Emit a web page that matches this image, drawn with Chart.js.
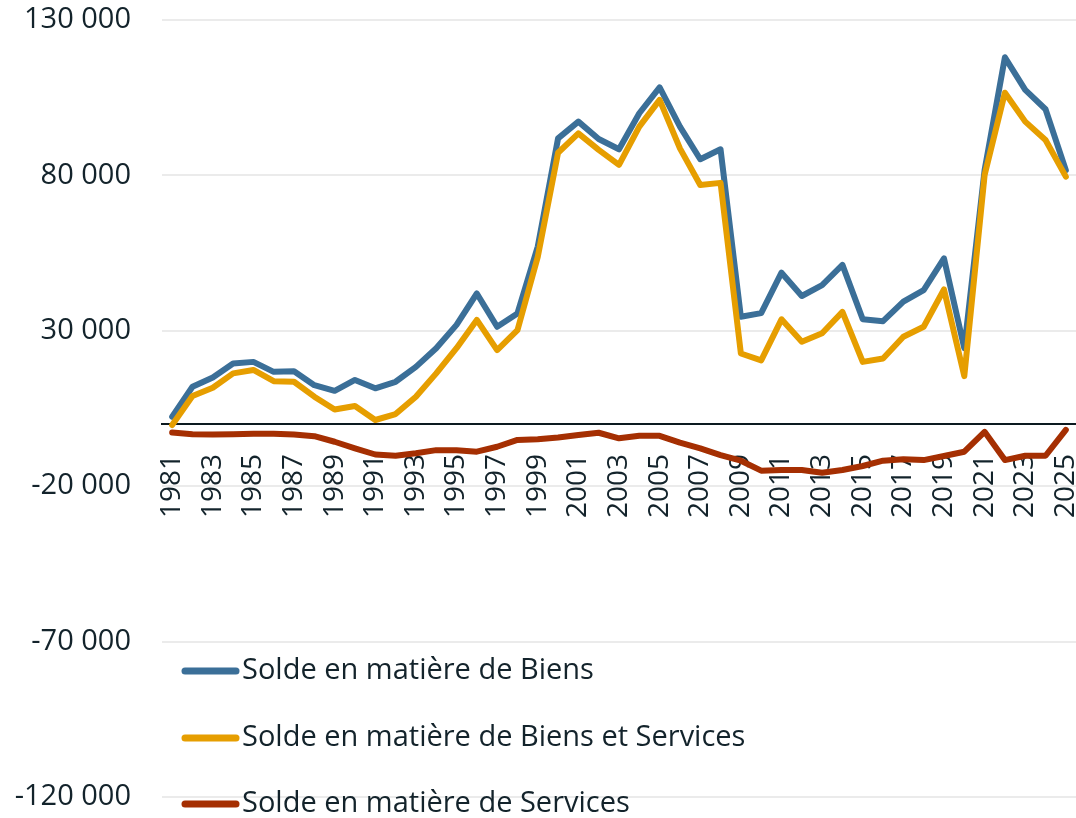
<!DOCTYPE html>
<html lang="fr">
<head>
<meta charset="utf-8">
<title>Soldes commerciaux</title>
<script src="https://cdn.jsdelivr.net/npm/chart.js@4.4.1/dist/chart.umd.min.js"></script>
<style>
  html, body { margin: 0; padding: 0; background: #ffffff; }
  #wrap { width: 1076px; height: 818px; }
</style>
</head>
<body>
<div id="wrap"><canvas id="soldeChart" width="1076" height="818"></canvas></div>
<script>
// Années (axe x)
const annees = [];
for (let a = 1981; a <= 2025; a++) annees.push(String(a));

// Valeurs
const soldeBiens = [
  2350, 12000, 15000, 19500, 20000, 16800, 17000, 12500, 10700, 14200, 11500, 13600, 18400, 24400, 31900,
  42000, 31300, 35600, 57100, 91900, 97300, 91700, 88400, 100000, 108300, 95700, 85200, 88400, 34500, 35700,
  48700, 41200, 44700, 51200, 33700, 33100, 39400, 43100, 53300, 24400, 81700, 118000, 107500, 101300, 81700
];
const soldeBiensServices = [
  -300, 9000, 11700, 16300, 17400, 13800, 13600, 8800, 4700, 5800, 1300, 3200, 8800, 16300, 24400,
  33500, 23800, 30200, 53800, 87300, 93500, 88200, 83400, 95700, 104300, 88700, 76900, 77600, 22700, 20500,
  33700, 26500, 29200, 36100, 20000, 21100, 28100, 31300, 43300, 15400, 80100, 106600, 97300, 91400, 79600
];
const soldeServices = [
  -2700, -3300, -3400, -3300, -3100, -3100, -3400, -3900, -5700, -7800, -9800, -10200, -9400, -8400, -8400,
  -8900, -7300, -5100, -4900, -4300, -3500, -2800, -4600, -3800, -3800, -6000, -7800, -10000, -11800, -15000,
  -14800, -14800, -15700, -14800, -13500, -11800, -11300, -11600, -10300, -8900, -2500, -11600, -10200, -10200, -1900
];

const nomsSeries = [
  "Solde en matière de Biens",
  "Solde en matière de Biens et Services",
  "Solde en matière de Services"
];
const couleurs = ["#3B6F98", "#E69E00", "#A52F02"];

const couleurTexte = "#13232b";
const police = "'Open Sans', 'Liberation Sans', sans-serif";

// Format "130 000"
function formatMilliers(v) {
  const s = Math.abs(v).toString().replace(/\B(?=(\d{3})+(?!\d))/g, " ");
  return (v < 0 ? "-" : "") + s;
}

// Légende dessinée dans la zone du graphique (en bas à gauche)
const legendeInterne = {
  id: "legendeInterne",
  afterDatasetsDraw(chart) {
    const ctx = chart.ctx;
    const lignesY = [671, 738, 804];
    ctx.save();
    chart.data.datasets.forEach((ds, i) => {
      const y = lignesY[i];
      ctx.strokeStyle = ds.borderColor;
      ctx.lineWidth = 7;
      ctx.lineCap = "round";
      ctx.beginPath();
      ctx.moveTo(185, y);
      ctx.lineTo(236, y);
      ctx.stroke();
      ctx.fillStyle = couleurTexte;
      ctx.font = "29px " + police;
      ctx.textBaseline = "middle";
      ctx.textAlign = "left";
      ctx.fillText(ds.label, 242, y);
    });
    ctx.restore();
  }
};

function serie(i, valeurs, ordre) {
  return {
    label: nomsSeries[i],
    data: valeurs,
    borderColor: couleurs[i],
    backgroundColor: couleurs[i],
    borderWidth: 6,
    pointRadius: 0,
    tension: 0,
    borderCapStyle: "round",
    borderJoinStyle: "round",
    order: ordre
  };
}

const ctx = document.getElementById("soldeChart").getContext("2d");
new Chart(ctx, {
  type: "line",
  data: {
    labels: annees,
    datasets: [
      serie(0, soldeBiens, 3),
      serie(1, soldeBiensServices, 2),
      serie(2, soldeServices, 1)
    ]
  },
  options: {
    responsive: false,
    animation: false,
    devicePixelRatio: 1,
    layout: { padding: { top: 20, bottom: 21, left: 0, right: 0 } },
    plugins: {
      legend: { display: false },
      tooltip: { enabled: false }
    },
    scales: {
      x: {
        position: { y: 0 },
        offset: true,
        grid: { color: "transparent", drawTicks: false },
        border: { display: true, color: "#0c1a20", width: 2 },
        ticks: {
          autoSkip: false,
          minRotation: 90,
          maxRotation: 90,
          padding: 30,
          color: couleurTexte,
          font: { family: police, size: 28 },
          callback: function (val, idx) {
            return idx % 2 === 0 ? this.getLabelForValue(val) : "";
          }
        },
        afterFit: (s) => {
          s.paddingLeft = 0; s.paddingRight = 0;
          s.paddingTop = 0; s.paddingBottom = 0;
        }
      },
      y: {
        min: -120000,
        max: 130000,
        grid: { color: "#ebebeb", lineWidth: 2, drawTicks: false },
        border: { display: false },
        ticks: {
          stepSize: 50000,
          padding: 31,
          color: couleurTexte,
          font: { family: police, size: 29 },
          callback: (v) => formatMilliers(v)
        },
        afterFit: (s) => {
          s.width = 162;
          s.paddingTop = 0; s.paddingBottom = 0;
        }
      }
    }
  },
  plugins: [legendeInterne]
});
</script>
</body>
</html>
